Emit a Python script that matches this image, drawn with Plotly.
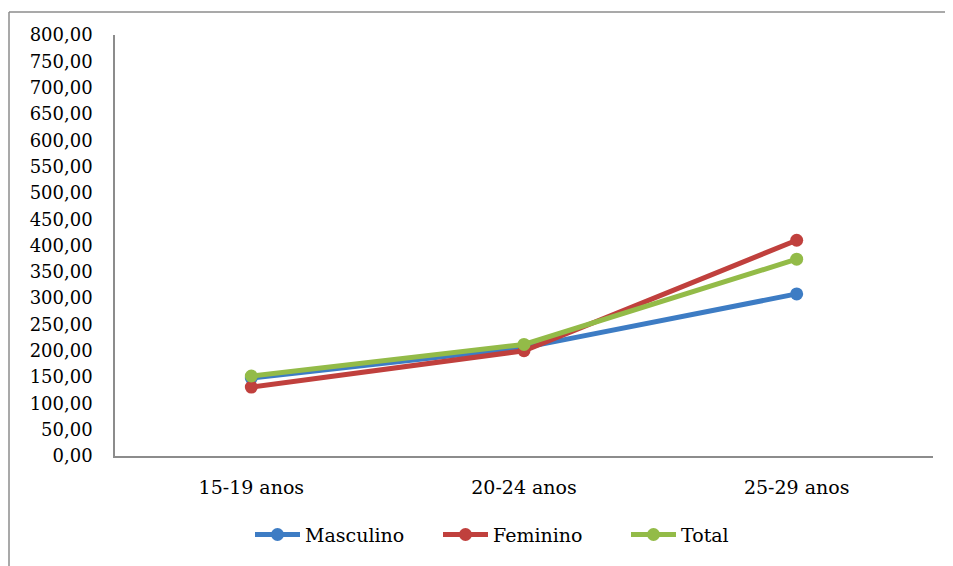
import plotly.graph_objects as go

categories = ["15-19 anos", "20-24 anos", "25-29 anos"]
masculino = [148, 206, 308]
feminino = [131, 200, 410]
total = [152, 212, 374]

series = [
    ("Masculino", masculino, "#3D7CC4"),
    ("Feminino", feminino, "#C0403D"),
    ("Total", total, "#93BB48"),
]

fig = go.Figure()
for name, vals, color in series:
    fig.add_trace(go.Scatter(
        x=categories, y=vals, name=name, mode="lines+markers",
        line=dict(color=color, width=5),
        marker=dict(color=color, size=13),
    ))

OFF = 8  # body margin of the page
W, H = 953 - OFF, 566 - OFF
L, R, T, B = 107, 20, 27, 108
pw, ph = W - L - R, H - T - B

def px_x(x):
    return (x - OFF - L) / pw

def px_y(y):
    return (H - B - (y - OFF)) / ph

FONT = "DejaVu Serif"

fig.update_layout(
    width=W, height=H,
    margin=dict(l=L, r=R, t=T, b=B),
    paper_bgcolor="white", plot_bgcolor="white",
    separators=",.",
    font=dict(family=FONT, size=18, color="black"),
    showlegend=True,
    legend=dict(orientation="h", x=px_x(250), xanchor="left", y=px_y(537), yanchor="middle",
                font=dict(family=FONT, size=19), itemwidth=45, tracegroupgap=0,
                entrywidth=128, entrywidthmode="pixels"),
    xaxis=dict(range=[-0.5, 2.5], showgrid=False, showline=True, linecolor="#8C8C8C", linewidth=1.5,
               ticks="outside", ticklen=13, tickcolor="rgba(0,0,0,0)",
               tickfont=dict(family=FONT, size=19), zeroline=False),
    yaxis=dict(range=[0, 800], dtick=50, tickformat=".2f", showgrid=False, showline=True,
               linecolor="#8C8C8C", linewidth=1.5, ticks="", ticklabelstandoff=17,
               tickfont=dict(family=FONT, size=18), zeroline=False),
    shapes=[
        dict(type="line", xref="paper", yref="paper", x0=px_x(9), x1=px_x(980), y0=px_y(12), y1=px_y(12),
             line=dict(color="#8C8C8C", width=1.5)),
        dict(type="line", xref="paper", yref="paper", x0=px_x(9), x1=px_x(9), y0=px_y(12), y1=px_y(600),
             line=dict(color="#8C8C8C", width=1.5)),
    ],
)

fig.write_html("out.html")
